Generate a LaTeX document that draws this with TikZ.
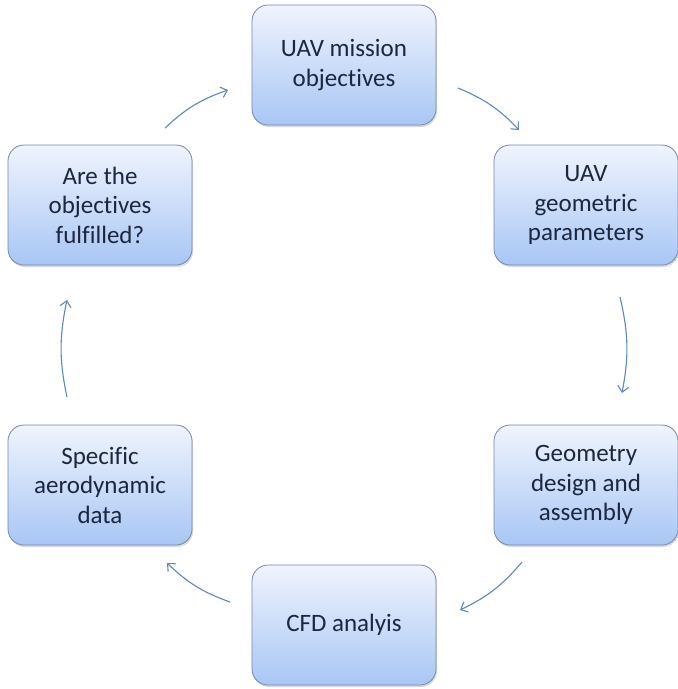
\documentclass[tikz,border=0pt]{standalone}
\usepackage{fontspec}
\setmainfont{Carlito}[Ligatures=NoCommon]
\usetikzlibrary{arrows.meta,shadows}
\definecolor{boxtop}{RGB}{240,244,253}
\definecolor{boxbot}{RGB}{168,198,245}
\definecolor{boxline}{RGB}{118,136,168}
\definecolor{boxtext}{RGB}{28,38,62}
\definecolor{flowc}{RGB}{92,136,186}

\begin{document}
\begin{tikzpicture}[
  x=1pt,y=1pt,
  >={Straight Barb[length=6pt,width=11pt]},
  box/.style={draw=boxline,line width=0.8pt,rounded corners=16pt,top color=boxtop,bottom color=boxbot,
    minimum width=184pt,minimum height=120pt,align=center,text=boxtext,
    font=\fontsize{25}{29.5}\selectfont,
    drop shadow={opacity=0.3,shadow xshift=1pt,shadow yshift=-2pt}},
  flow/.style={->,draw=flowc,line width=1.1pt,bend left=12}
]
  \useasboundingbox (0,0) rectangle (678,-689);

  \node[box] (mission) at (344,-65) {UAV mission\\objectives};
  \node[box] (geompar) at (586,-205) {UAV\\geometric\\parameters};
  \node[box] (design)  at (586,-485) {Geometry\\design and\\assembly};
  \node[box] (cfd)     at (344,-625) {CFD analyis};
  \node[box] (aerodata) at (100,-485) {Specific\\aerodynamic\\data};
  \node[box] (check)   at (100,-205) {Are the\\objectives\\fulfilled?};

  % free ends of the loop arrows
  \coordinate (a1) at (458,-88);  \coordinate (b1) at (519,-130);
  \coordinate (a2) at (620,-297); \coordinate (b2) at (622,-393);
  \coordinate (a3) at (522,-562); \coordinate (b3) at (460,-610);
  \coordinate (a4) at (230,-602); \coordinate (b4) at (167,-563);
  \coordinate (a5) at (67,-397);  \coordinate (b5) at (67,-300);
  \coordinate (a6) at (165,-128); \coordinate (b6) at (228,-90);

  \draw[flow] (a1) to (b1);
  \draw[flow] (a2) to (b2);
  \draw[flow] (a3) to (b3);
  \draw[flow] (a4) to (b4);
  \draw[flow] (a5) to (b5);
  \draw[flow] (a6) to (b6);
\end{tikzpicture}
\end{document}
